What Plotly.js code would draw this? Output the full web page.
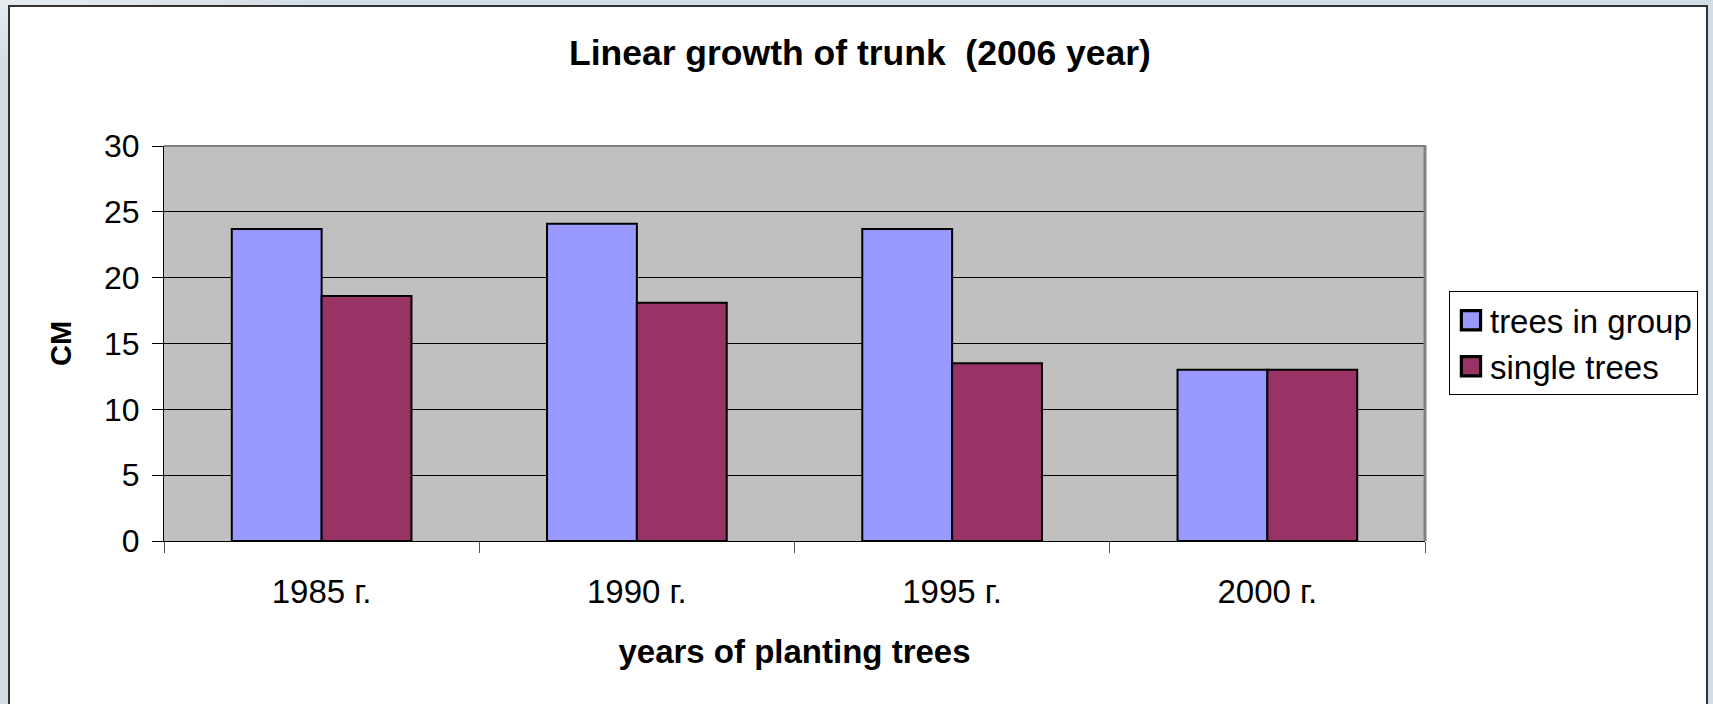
<!DOCTYPE html>
<html>
<head>
<meta charset="utf-8">
<script src="https://cdn.plot.ly/plotly-3.0.1.min.js"></script>
<style>
  html, body { margin: 0; padding: 0; width: 1713px; height: 704px; overflow: hidden;
    background: linear-gradient(170deg, #e6ecf1 0%, #d3dde5 6%, #d3dde5 100%); }
  #panel { position: absolute; left: 8px; top: 5px; width: 1700px; height: 720px;
    background: #ffffff; border: 2px solid #333333; box-sizing: border-box; }
  #chart { position: absolute; left: 0; top: 0; width: 1713px; height: 704px; }
</style>
</head>
<body>
<div id="panel"></div>
<div id="chart"></div>
<script>
const categories = ["1985 г.", "1990 г.", "1995 г.", "2000 г."];
const treesInGroup = [23.7, 24.1, 23.7, 13.0];
const singleTrees = [18.6, 18.1, 13.5, 13.0];
const seriesNames = ["trees in group", "single trees"];
const yTicks = [0, 5, 10, 15, 20, 25, 30];

const FONT = "Liberation Sans, Arial, sans-serif";

const traces = [
  { type: "bar", name: seriesNames[0], x: categories, y: treesInGroup,
    marker: { color: "#9999FF", line: { color: "#000000", width: 2 } }, hoverinfo: "x+y+name" },
  { type: "bar", name: seriesNames[1], x: categories, y: singleTrees,
    marker: { color: "#993366", line: { color: "#000000", width: 2 } }, hoverinfo: "x+y+name" }
];

const layout = {
  width: 1713, height: 704,
  paper_bgcolor: "rgba(0,0,0,0)",
  plot_bgcolor: "#C0C0C0",
  margin: { l: 164, r: 288, t: 146, b: 163 },
  font: { family: FONT, color: "#000000", size: 32 },
  title: { text: "<b>Linear growth of trunk&nbsp; (2006 year)</b>",
    font: { family: FONT, size: 35.5, color: "#000" },
    xref: "container", yref: "container", x: 0.502, xanchor: "center", y: 0.926, yanchor: "middle" },
  barmode: "group", bargap: 0.43, bargroupgap: 0,
  xaxis: {
    type: "category",
    title: { text: "<b>years of planting trees</b>", font: { family: FONT, size: 33 }, standoff: 31 },
    tickfont: { family: FONT, size: 33 },
    showline: true, linecolor: "#000000", linewidth: 1,
    ticks: "outside", tickson: "boundaries", ticklen: 11, tickcolor: "#555555", tickwidth: 1,
    ticklabelstandoff: 21,
    showgrid: false, zeroline: false, automargin: false
  },
  yaxis: {
    title: { text: "<b>CM</b>", font: { family: FONT, size: 29 }, standoff: 23 },
    range: [0, 30], tickvals: yTicks, ticktext: yTicks.map(String),
    tickfont: { family: FONT, size: 32 },
    showline: true, linecolor: "#000000", linewidth: 1,
    ticks: "outside", ticklen: 11, tickcolor: "#000000", tickwidth: 1,
    showgrid: true, gridcolor: "#000000", gridwidth: 1,
    zeroline: true, zerolinecolor: "#000000", zerolinewidth: 1,
    ticklabelstandoff: 6, automargin: false
  },
  legend: {
    x: 1.019, xanchor: "left", y: 0.632, yanchor: "top", xref: "paper", yref: "paper",
    bgcolor: "#FFFFFF", bordercolor: "#000000", borderwidth: 1,
    font: { family: FONT, size: 33 }, traceorder: "normal"
  },
  shapes: [
    { type: "line", xref: "paper", yref: "paper", x0: 0, x1: 1.001, y0: 1, y1: 1,
      line: { color: "#808080", width: 2 } },
    { type: "line", xref: "paper", yref: "paper", x0: 1, x1: 1, y0: 0, y1: 1,
      line: { color: "#808080", width: 3 } }
  ]
};

Plotly.newPlot("chart", traces, layout, { displayModeBar: false, staticPlot: true }).then(function () {
  document.querySelectorAll("#chart .legendpoints path").forEach(function (p) {
    var b = p.getBBox();
    var cx = b.x + b.width / 2, cy = b.y + b.height / 2;
    var s = 1.6;
    p.setAttribute("transform",
      "translate(" + (cx + 21) + "," + cy + ") scale(" + s + ") translate(" + (-cx) + "," + (-cy) + ")");
  });
});
</script>
</body>
</html>
